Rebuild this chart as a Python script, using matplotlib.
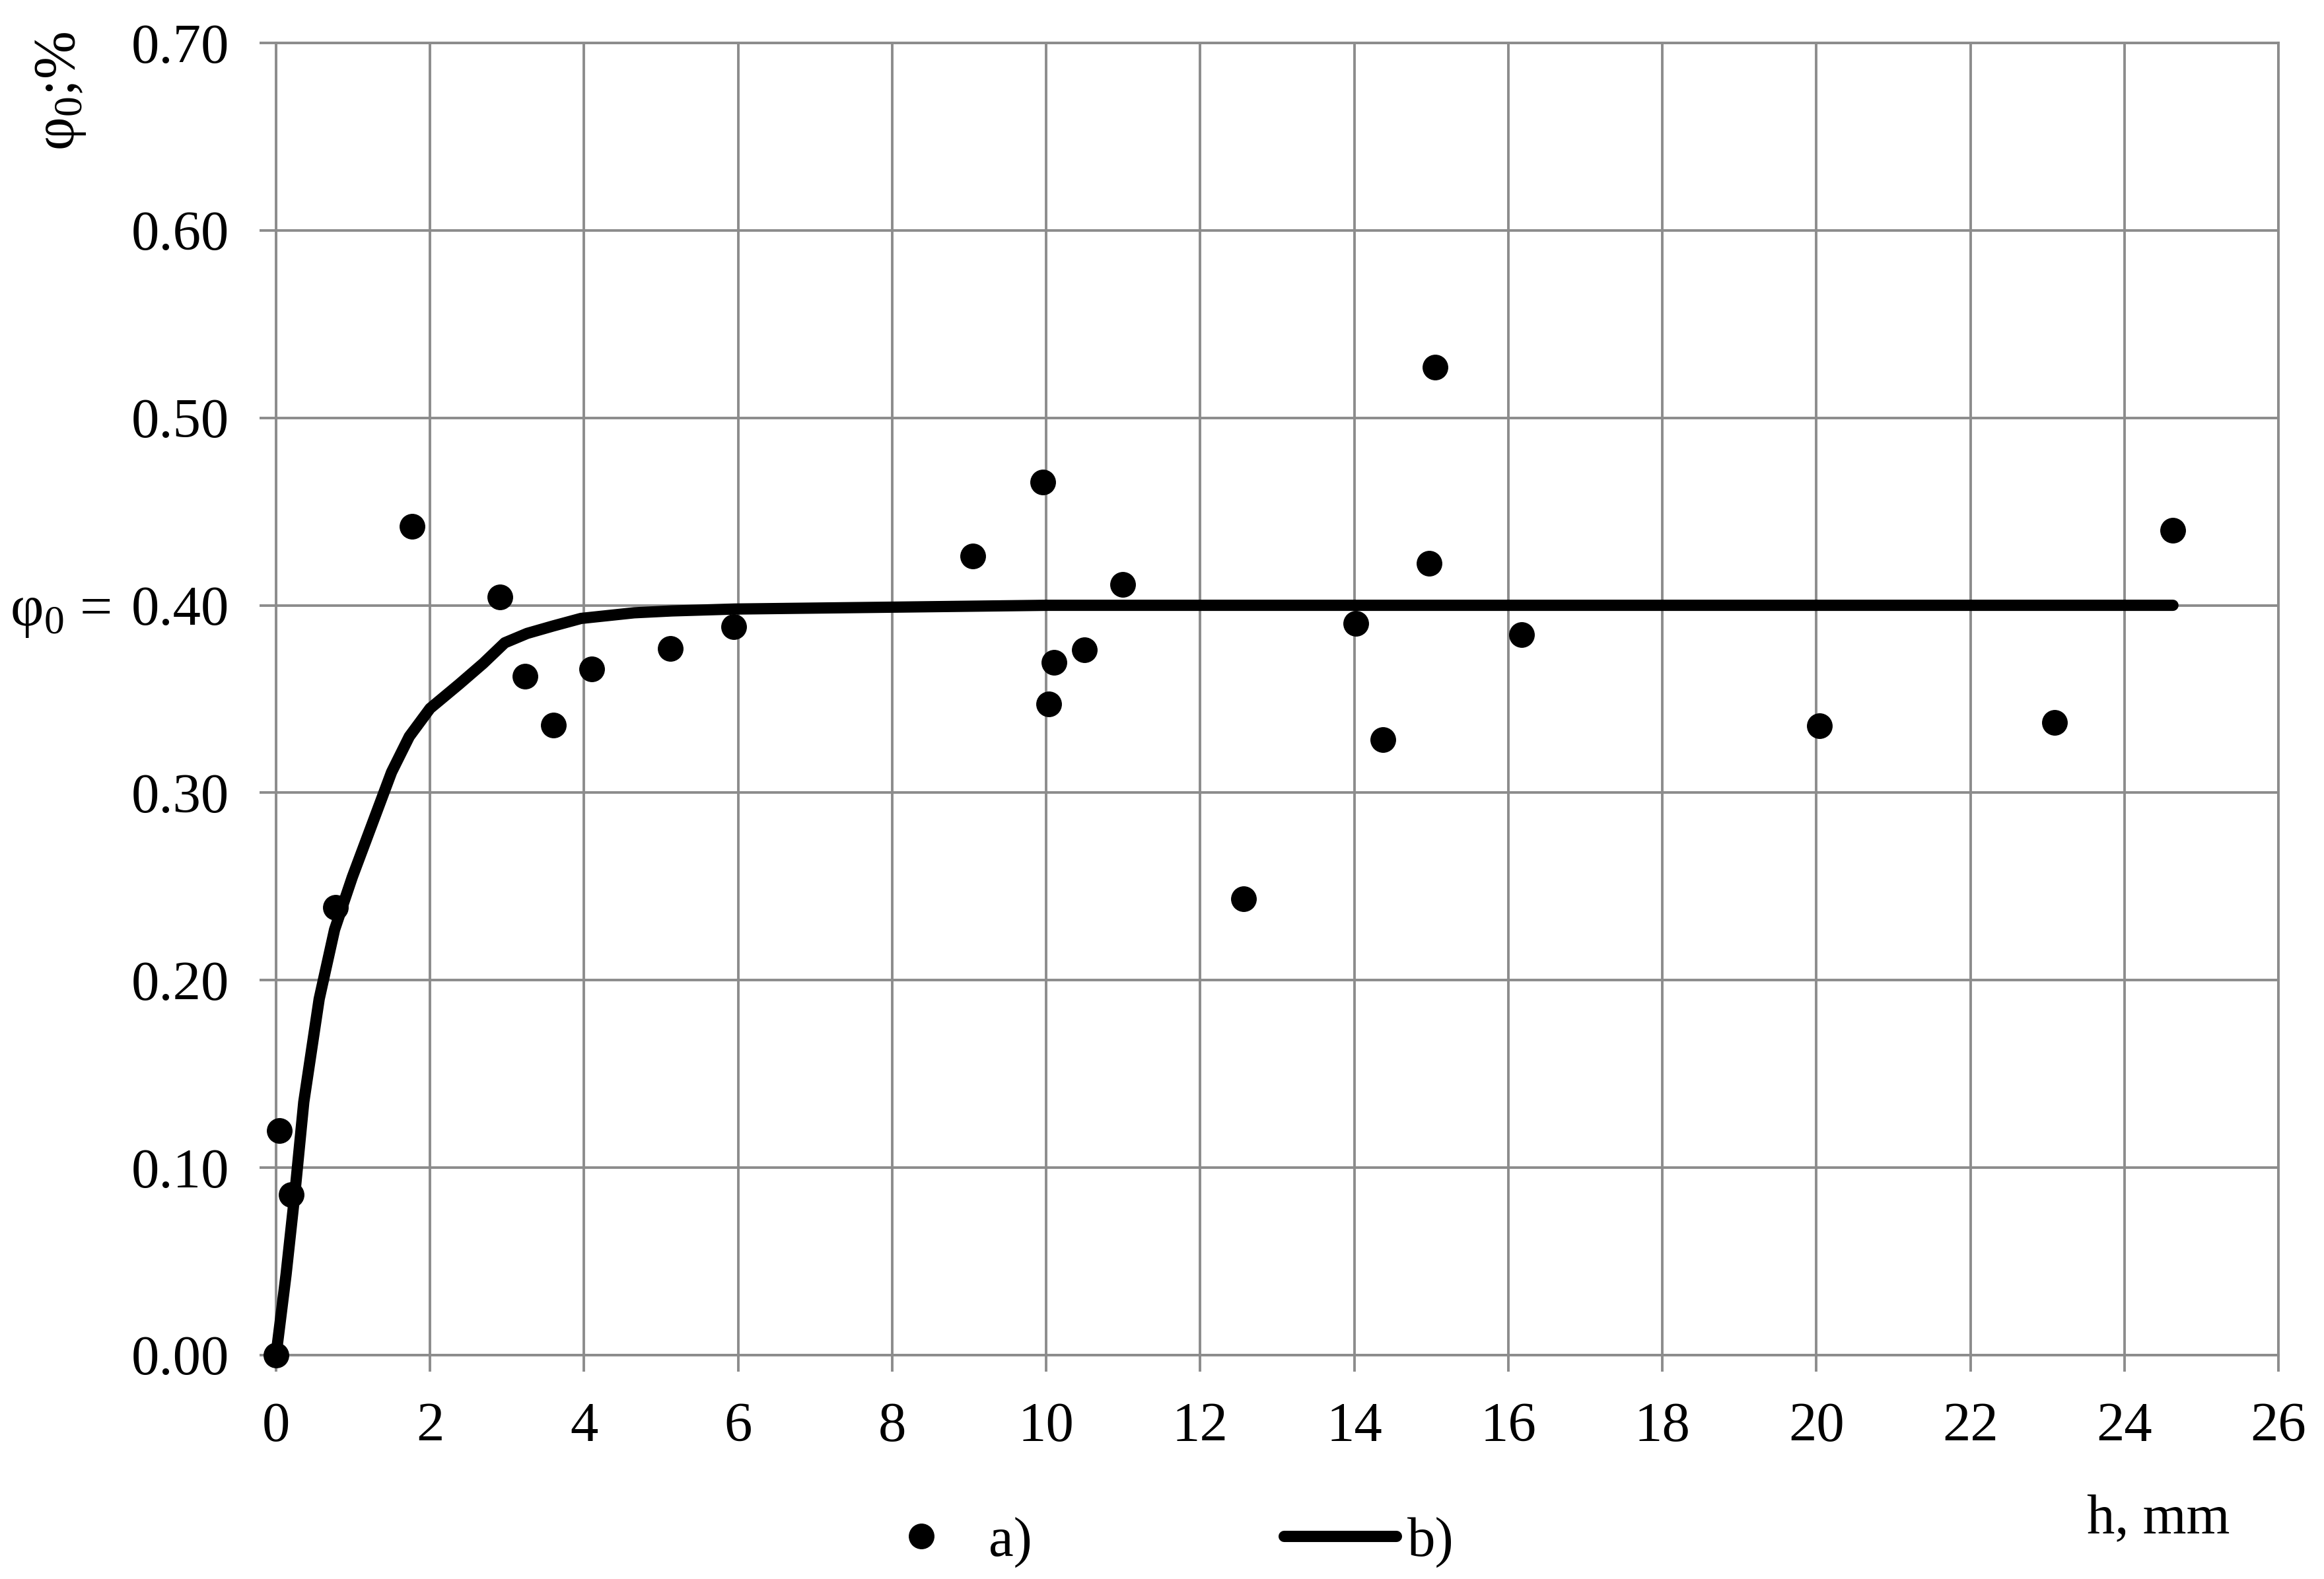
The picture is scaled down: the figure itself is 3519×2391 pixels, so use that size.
import matplotlib
matplotlib.use("Agg")
import matplotlib.pyplot as plt
from matplotlib.lines import Line2D
from matplotlib.transforms import blended_transform_factory

# ---- data ----
h_a = [0.0, 0.04, 0.20, 0.77, 1.77, 2.905, 3.234, 3.60, 4.10, 5.12, 5.94,
       9.05, 9.955, 10.03, 10.10, 10.50, 10.99, 12.56, 14.02, 14.37, 14.97,
       15.05, 16.17, 20.04, 23.09, 24.63]
phi_a = [0.0, 0.1198, 0.0857, 0.2387, 0.442, 0.4046, 0.3623, 0.336, 0.366,
         0.377, 0.3886, 0.4264, 0.4656, 0.3475, 0.3695, 0.3763, 0.4111, 0.2433,
         0.3904, 0.3284, 0.4225, 0.527, 0.3843, 0.3359, 0.3374, 0.440]

h_b = [0, 0.13, 0.246, 0.36, 0.56, 0.76, 0.99, 1.245, 1.50, 1.73, 2.00, 2.38,
       2.69, 2.97, 3.26, 3.60, 3.96, 4.65, 5.14, 5.95, 8.0, 10.0, 24.63]
phi_b = [0, 0.043, 0.087, 0.135, 0.190, 0.227, 0.255, 0.283, 0.311, 0.330,
         0.345, 0.358, 0.369, 0.380, 0.385, 0.389, 0.393, 0.396, 0.397, 0.398,
         0.399, 0.400, 0.400]

x_ticks = list(range(0, 27, 2))
y_ticks = [0.0, 0.1, 0.2, 0.3, 0.4, 0.5, 0.6, 0.7]
y_ticklabels = ["0.00", "0.10", "0.20", "0.30", "0.40", "0.50", "0.60", "0.70"]
label_a = "a)"
label_b = "b)"
x_label = "h, mm"
y_label = "φ$_0$;%"
phi0_label = "φ$_0$ = "

# ---- style ----
plt.rcParams['font.family'] = ['Liberation Serif', 'DejaVu Serif']
plt.rcParams['mathtext.fontset'] = 'custom'
plt.rcParams['mathtext.rm'] = 'Liberation Serif'
plt.rcParams['mathtext.it'] = 'Liberation Serif:italic'
plt.rcParams['mathtext.bf'] = 'Liberation Serif:bold'

FS = 61
GRID = '#8c8c8c'
GLW = 2.8

fig = plt.figure(figsize=(35.19, 23.91), dpi=100)
ax = fig.add_axes([418/3519, 1-2052/2391, (3450-418)/3519, (2052-65)/2391])

ax.set_xlim(0, 26)
ax.set_ylim(0, 0.7)
ax.set_xticks(x_ticks)
ax.set_yticks(y_ticks)
ax.set_yticklabels(y_ticklabels)
ax.grid(True, color=GRID, linewidth=GLW)
ax.set_axisbelow(True)
for s in ax.spines.values():
    s.set_color(GRID)
    s.set_linewidth(GLW)
ax.tick_params(axis='both', direction='out', color=GRID, width=GLW,
               length=18, labelsize=FS, pad=33)

ax.plot(h_b, phi_b, color='black', linewidth=12.3, solid_capstyle='round',
        solid_joinstyle='round', zorder=3, clip_on=False)
ax.plot(h_a, phi_a, linestyle='none', marker='o', markersize=27,
        color='black', zorder=4, clip_on=False)

# y label
fig.text(92/3519, 1-138/2391, y_label, rotation=90, ha='center', va='center',
         fontsize=FS + 2)
# phi0 annotation
tr = blended_transform_factory(fig.transFigure, ax.transData)
ax.text(15/3519, 0.40, phi0_label, transform=tr, ha='left', va='center_baseline',
        fontsize=FS + 2)
# x label
fig.text(3160/3519, 1-2321/2391, x_label, ha='left', va='baseline', fontsize=FS)

# legend
handles = [Line2D([], [], linestyle='none', marker='o', markersize=27, color='black'),
           Line2D([], [], color='black', linewidth=12.3, solid_capstyle='round')]
fig.legend(handles, [label_a, label_b], loc='center',
           bbox_to_anchor=(1756/3519, 1-2335/2391), ncol=2, frameon=False,
           fontsize=FS, handlelength=2.0, handletextpad=0.2, columnspacing=4.5,
           borderpad=0, borderaxespad=0)

fig.savefig("out.png", dpi=100)
